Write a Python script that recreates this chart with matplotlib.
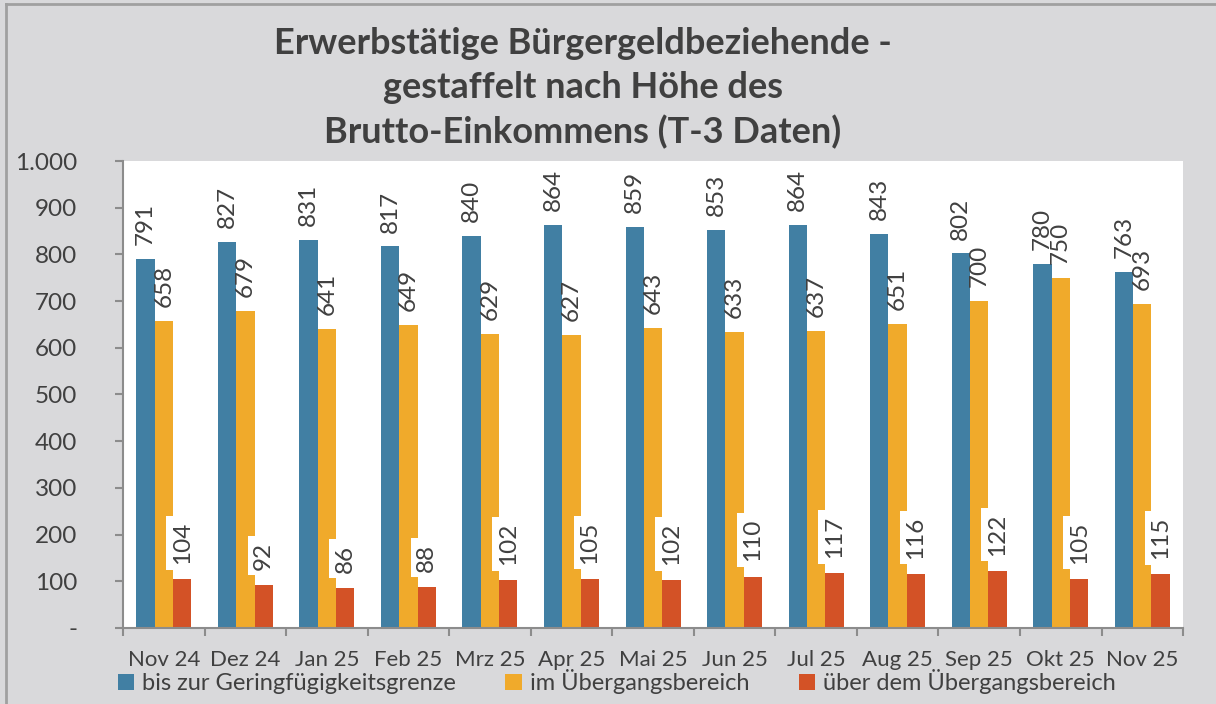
import matplotlib.pyplot as plt
import numpy as np
from matplotlib.lines import Line2D

plt.rcParams['font.family'] = ['Lato', 'DejaVu Sans']

# data
months = ['Nov 24', 'Dez 24', 'Jan 25', 'Feb 25', 'Mrz 25', 'Apr 25', 'Mai 25',
          'Jun 25', 'Jul 25', 'Aug 25', 'Sep 25', 'Okt 25', 'Nov 25']
gering = [791, 827, 831, 817, 840, 864, 859, 853, 864, 843, 802, 780, 763]
uebergang = [658, 679, 641, 649, 629, 627, 643, 633, 637, 651, 700, 750, 693]
ueber = [104, 92, 86, 88, 102, 105, 102, 110, 117, 116, 122, 105, 115]
series_names = ['bis zur Geringfügigkeitsgrenze', 'im Übergangsbereich',
                'über dem Übergangsbereich']
yticks = [0, 100, 200, 300, 400, 500, 600, 700, 800, 900, 1000]
ytick_labels = ['-', '100', '200', '300', '400', '500', '600', '700', '800', '900', '1.000']

txt = '#404040'
bg = '#d9d9db'
colors = ['#417fa3', '#f0aa2b', '#d35226']

fig = plt.figure(figsize=(12.16, 7.04), dpi=100, facecolor=bg)
ax = fig.add_axes([0.1012, 0.108, 0.8717, 0.6633])
ax.set_facecolor('white')

x = np.arange(len(months))
w = 0.225
b1 = ax.bar(x - w, gering, w, color=colors[0], label=series_names[0])
b2 = ax.bar(x, uebergang, w, color=colors[1], label=series_names[1])
b3 = ax.bar(x + w, ueber, w, color=colors[2], label=series_names[2])

ax.bar_label(b1, rotation=90, padding=10, fontsize=17.5, color=txt)
ax.bar_label(b2, rotation=90, padding=10, fontsize=17.5, color=txt)
ax.bar_label(b3, rotation=90, padding=11, fontsize=17.5, color=txt,
             bbox=dict(facecolor='white', edgecolor='none', pad=4))

ax.set_xlim(-0.5, len(months) - 0.5)
ax.set_ylim(0, 1000)
ax.set_yticks(yticks)
ax.set_yticklabels(ytick_labels)
ax.set_xticks(x)
ax.set_xticklabels(months)
ax.set_xticks(np.arange(len(months) + 1) - 0.5, minor=True)

for s in ['top', 'right']:
    ax.spines[s].set_visible(False)
for s in ['left', 'bottom']:
    ax.spines[s].set_color('#8c8c8c')
    ax.spines[s].set_linewidth(1.5)

ax.tick_params(axis='y', length=6, width=1.5, color='#8c8c8c', labelsize=17.5,
               labelcolor=txt, pad=27)
ax.tick_params(axis='x', which='major', length=0, labelsize=16, labelcolor=txt, pad=16)
ax.tick_params(axis='x', which='minor', length=6, width=1.5, color='#8c8c8c')

fig.text(0.4795, 0.875, 'Erwerbstätige Bürgergeldbeziehende -\ngestaffelt nach Höhe des\nBrutto-Einkommens (T-3 Daten)',
         ha='center', va='center', fontsize=26, fontweight='bold', color=txt,
         linespacing=1.4)

fig.legend(handles=[b1, b2, b3], loc='center left', bbox_to_anchor=(0.097, 0.032),
           ncol=3, frameon=False, fontsize=17, labelcolor=txt,
           handlelength=0.68, handleheight=0.68, handletextpad=0.34,
           columnspacing=2.1, borderpad=0, borderaxespad=0)

# outer chart border (top and left visible)
fig.add_artist(Line2D([6 / 1216, 1], [1 - 4 / 704, 1 - 4 / 704], color='#a0a0a0', lw=2))
fig.add_artist(Line2D([6 / 1216, 6 / 1216], [0, 1 - 4 / 704], color='#a0a0a0', lw=2))

fig.savefig('out.png', dpi=100, facecolor=bg)
